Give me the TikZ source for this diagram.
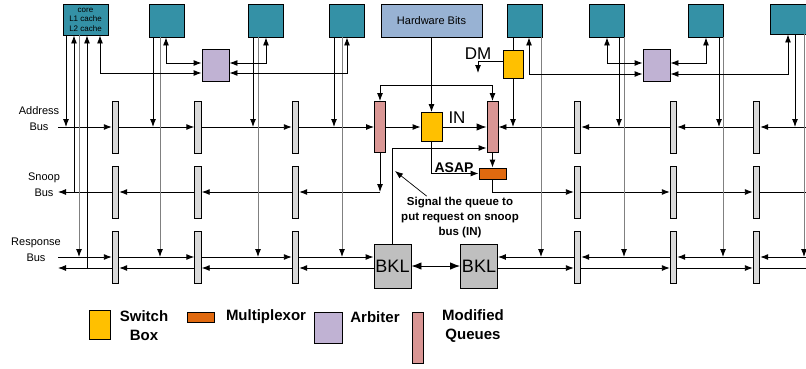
\documentclass[tikz,border=0pt]{standalone}
\usepackage{fontspec}
\setmainfont{Liberation Sans}
\usetikzlibrary{arrows.meta}
\definecolor{coreteal}{HTML}{3491A6}
\definecolor{hwblue}{HTML}{98B2D3}
\definecolor{arbcol}{HTML}{C0B2D3}
\definecolor{swyellow}{HTML}{FFC000}
\definecolor{muxcol}{HTML}{E0690F}
\definecolor{queuecol}{HTML}{D99694}
\definecolor{swgray}{HTML}{D9D9D9}
\definecolor{bklgray}{HTML}{BFBFBF}

\begin{document}
\begin{tikzpicture}[x=1pt,y=-1pt,>={Latex[length=8pt,width=6pt]},line width=0.9pt,
  core/.style={draw,fill=coreteal,minimum width=35pt,minimum height=33pt,inner sep=0pt},
  arb/.style={draw,fill=arbcol,minimum width=27pt,minimum height=32pt,inner sep=0pt},
  sw/.style={draw,fill=swgray,minimum width=6.5pt,minimum height=52pt,inner sep=0pt},
  queue/.style={draw,fill=queuecol,minimum width=11pt,minimum height=51pt,inner sep=0pt},
  swbox/.style={draw,fill=swyellow,minimum width=21pt,minimum height=29pt,inner sep=0pt},
  muxbox/.style={draw,fill=muxcol,minimum width=27pt,minimum height=11pt,inner sep=0pt},
  bkl/.style={draw,fill=bklgray,minimum width=37pt,minimum height=44pt,inner sep=0pt,font=\fontsize{18}{18}\selectfont},
  gwire/.style={-{Latex[length=8pt,width=6pt,fill=black,color=black]},draw=black!50},
  bigtip/.style={>={Latex[length=10pt,width=7.5pt]}},
  lbl/.style={align=center,font=\fontsize{11}{16}\selectfont},
  leg/.style={align=center,font=\bfseries\fontsize{15}{19}\selectfont}]
\useasboundingbox[fill=white] (0,0) rectangle (806,368);

% cores, arbiters, hardware bits
\node[core,minimum width=45pt,minimum height=31pt,align=center,font=\fontsize{8}{9.5}\selectfont] (core1) at (85.5,19.5) {core\\L1 cache\\L2 cache};
\node[core] (core2) at (166.5,20.5) {};
\node[core] (core3) at (265.5,20.5) {};
\node[core] (core4) at (347,20.5) {};
\node[core] (core5) at (524.5,20.5) {};
\node[core] (core6) at (606.5,20.5) {};
\node[core] (core7) at (705.5,20.5) {};
\node[core,minimum width=40pt,minimum height=30pt] (core8) at (790,19) {};
\node[draw,fill=hwblue,minimum width=101pt,minimum height=33pt,font=\fontsize{11}{13}\selectfont] (hw) at (431.5,20.5) {Hardware Bits};
\node[arb] (arb1) at (215.5,65) {};
\node[arb] (arb2) at (656.5,65) {};

% gray switches on the three buses
\foreach \n/\x in {1/115.5,2/198,3/295.5,4/577.5,5/673.5,6/756.5} {
  \node[sw] (ga\n) at (\x,127) {};
  \node[sw] (gs\n) at (\x,192) {};
  \node[sw] (gr\n) at (\x,257) {};
}

% middle part
\node[queue] (q1) at (380,127) {};
\node[queue] (q2) at (492.5,127) {};
\node[swbox] (in) at (431.5,127) {};
\node[swbox,minimum width=20pt,minimum height=28pt] (dm) at (513,64) {};
\node[muxbox] (mux) at (492.5,173.5) {};
\node[bkl] (bkl1) at (392.5,266) {BKL};
\node[bkl] (bkl2) at (479,266) {BKL};
\node[font=\fontsize{17}{17}\selectfont] (inlbl) at (457,118) {IN};
\node[font=\fontsize{17}{17}\selectfont] (dmlbl) at (478,54) {DM};
\node[font=\bfseries\fontsize{14}{14}\selectfont,inner sep=0pt] (asap) at (454,168) {ASAP};
\node[align=center,inner sep=1pt,font=\bfseries\fontsize{11.5}{15}\selectfont] (sig) at (460,218) {Signal the queue to\\put request on snoop\\bus (IN)};

% bus labels
\node[lbl] (addrlbl) at (39,119) {Address\\Bus};
\node[lbl] (snooplbl) at (44,185) {Snoop\\Bus};
\node[lbl] (resplbl) at (36,250) {Response\\Bus};

% bus ends and taps
\coordinate (addrL) at (58,127);  \coordinate (addrR) at (806,127);
\coordinate (snoopL) at (58,192); \coordinate (snoopR) at (806,192);
\coordinate (respL) at (58,257);  \coordinate (respR) at (806,257);
\coordinate (respLb) at (58,268); \coordinate (respRb) at (806,268);
\coordinate (ta1) at (66,127);  \coordinate (ta2) at (153,127); \coordinate (ta3) at (253,127); \coordinate (ta4) at (334,127);
\coordinate (ta5) at (513,127); \coordinate (ta6) at (619,127); \coordinate (ta7) at (719,127); \coordinate (ta8) at (795,127);
\coordinate (tr1) at (79,257);  \coordinate (tr2) at (160,257); \coordinate (tr3) at (258,257); \coordinate (tr4) at (342,257);
\coordinate (tr5) at (541,257); \coordinate (tr6) at (624,257); \coordinate (tr7) at (723,257); \coordinate (tr8) at (804,257);
\coordinate (tk1) at (100,73);  \coordinate (tk2) at (166,63);  \coordinate (tk3) at (266,63);  \coordinate (tk4) at (347,73);
\coordinate (tk5) at (529,74);  \coordinate (tk6) at (607,63);  \coordinate (tk7) at (706,63);  \coordinate (tk8) at (788,74);
\coordinate (ts1) at (74,192);  \coordinate (tb1) at (87,268);
\coordinate (dmo) at (478,73);  \coordinate (sgt) at (395,171);

% address bus
\draw[->] (addrL) -- (ga1);
\draw[->] (ga1) -- (ga2);
\draw[->] (ga2) -- (ga3);
\draw[->] (ga3) -- (q1);
\draw[->] (q1) -- (in);
\draw[->,bigtip] (in) -- (q2);
\draw[->] (addrR) -- (ga6);
\draw[->] (ga6) -- (ga5);
\draw[->] (ga5) -- (ga4);
\draw[->] (ga4) -- (q2);

% snoop bus
\draw[->] (gs1) -- (snoopL);
\draw[->] (gs2) -- (gs1);
\draw[->] (gs3) -- (gs2);
\draw[->] (q1) -- (q1 |- snoopL);
\draw[->] (q1 |- snoopL) -- (gs3);
\draw[->] (mux) |- (gs4);
\draw[->] (gs4) -- (gs5);
\draw[->] (gs5) -- (gs6);
\draw (gs6) -- (snoopR);

% response bus
\draw[->] (respL) -- (gr1);
\draw[->] (gr1) -- (gr2);
\draw[->] (gr2) -- (gr3);
\draw[->] (gr3) -- (gr3 -| bkl1.west);
\draw[->] (gr4) -- (gr4 -| bkl2.east);
\draw[->] (gr5) -- (gr4);
\draw[->] (gr6) -- (gr5);
\draw[->] (respR) -- (gr6);
\draw[->] (bkl1.west |- respLb) -- (gr3.east |- respLb);
\draw[->] (gr3.west |- respLb) -- (gr2.east |- respLb);
\draw[->] (gr2.west |- respLb) -- (gr1.east |- respLb);
\draw[->] (gr1.west |- respLb) -- (respLb);
\draw[->] (bkl2.east |- respRb) -- (gr4.west |- respRb);
\draw[->] (gr4.east |- respRb) -- (gr5.west |- respRb);
\draw[->] (gr5.east |- respRb) -- (gr6.west |- respRb);
\draw (gr6.east |- respRb) -- (respRb);
\draw[<->,bigtip] (bkl1) -- (bkl2);

% cores to buses and arbiters
\foreach \c in {1,2,3,4,6,7,8}
  \draw[->] (core\c.south -| ta\c) -- (ta\c);
\foreach \c in {1,...,8}
  \draw[gwire] (core\c.south -| tr\c) -- (tr\c);
\foreach \c/\b/\s in {1/1/west,2/1/west,3/1/east,4/1/east,5/2/west,6/2/west,7/2/east,8/2/east}
  \draw[<->] (core\c.south -| tk\c) |- (arb\b.\s |- tk\c);
\draw[->] (ts1) -- (core1.south -| ts1);
\draw[->] (tb1) -- (core1.south -| tb1);

% switch boxes, queues, multiplexor
\draw[->] (hw) -- (in);
\draw[<->] (q1.north) -- ++(0,-16) -| (q2.north);
\draw (core5.south -| dm) -- (dm);
\draw[->] (dm) -- (ta5);
\draw[->] ([yshift=3pt]dm.west) -| (dmo);
\draw[->] (in) |- (mux);
\draw[->] (q2) -- (mux);
\draw[->] (bkl1.north) |- ([yshift=-21pt]q2.west);
\draw[->,line width=0.7pt] ([xshift=27pt]sig.north west) -- (sgt);

% legend
\node[swbox] (lsw) at (99.5,324.5) {};
\node[leg] (lswt) at (144,325.5) {Switch\\Box};
\node[muxbox,minimum height=10pt] (lmux) at (200.5,317) {};
\node[leg] (lmuxt) at (266,317) {Multiplexor};
\node[arb,minimum width=28pt,minimum height=31pt] (larb) at (328,327.5) {};
\node[leg] (larbt) at (375,317) {Arbiter};
\node[queue] (lq) at (417.5,337.5) {};
\node[leg] (lqt) at (473,326) {Modified\\Queues};
\end{tikzpicture}
\end{document}
